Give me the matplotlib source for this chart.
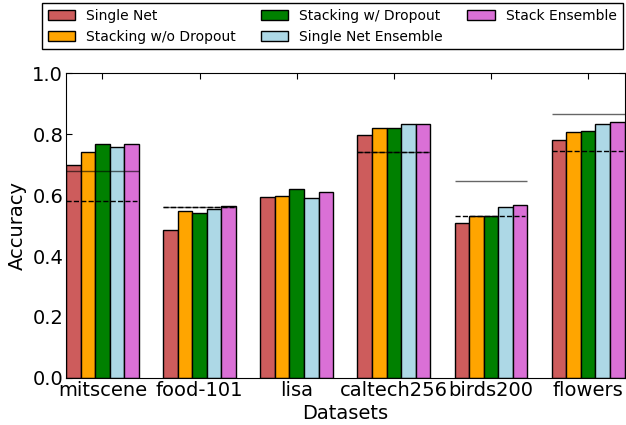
import numpy as np
from matplotlib import pyplot as plt

datasets = ['mitscene', 'food-101', 'lisa', 'caltech256', 'birds200', 'flowers']
methods = ['Single Net', 'Stacking w/o Dropout', 'Stacking w/ Dropout',
           'Single Net Ensemble', 'Stack Ensemble']
colors = ['indianred', 'orange', 'green', 'lightblue', 'orchid']

single_net = [0.700, 0.486, 0.592, 0.797, 0.509, 0.780]
stack_no_drop = [0.741, 0.547, 0.598, 0.819, 0.530, 0.805]
stack_drop = [0.766, 0.540, 0.620, 0.819, 0.530, 0.809]
single_ens = [0.758, 0.554, 0.589, 0.832, 0.562, 0.834]
stack_ens = [0.767, 0.565, 0.611, 0.832, 0.567, 0.839]
series = [single_net, stack_no_drop, stack_drop, single_ens, stack_ens]

# reference lines per dataset (None = not shown)
solid_ref = [0.679, 0.562, None, 0.740, 0.647, 0.864]
dashed_ref = [0.581, 0.562, None, 0.740, 0.530, 0.743]

plt.rcParams['xtick.direction'] = 'in'
plt.rcParams['ytick.direction'] = 'in'
plt.rcParams['xtick.top'] = True
plt.rcParams['ytick.right'] = True

fig = plt.figure(figsize=(6.26, 4.25), dpi=100)
ax = fig.add_axes([0.1054, 0.1106, 0.8930, 0.7176])

w = 0.15
x = np.arange(len(datasets))
for k, vals in enumerate(series):
    ax.bar(x + k * w, vals, w, align='edge', color=colors[k],
           edgecolor='black', linewidth=1, label=methods[k], zorder=2)

for i in range(len(datasets)):
    if solid_ref[i] is not None:
        ax.hlines(solid_ref[i], i, i + 0.75, colors='black', linewidth=1,
                  alpha=0.6, zorder=3)
    if dashed_ref[i] is not None:
        ax.hlines(dashed_ref[i], i, i + 0.73, colors='black', linewidth=1,
                  linestyles='--', zorder=3)

ax.set_xlim(0, 5.755)
ax.set_ylim(0, 1.0)
ax.set_yticks(np.arange(0, 1.01, 0.2))
ax.set_xticks(x + 0.375)
ax.set_xticklabels(datasets)
ax.tick_params(labelsize=14, length=4, pad=2)
ax.set_xlabel('Datasets', fontsize=14, labelpad=3)
ax.set_ylabel('Accuracy', fontsize=14)

fig.legend(loc='upper left', bbox_to_anchor=(42 / 626, 1 - 3 / 425), ncol=3,
           fontsize=10, fancybox=False, edgecolor='black', framealpha=1,
           borderpad=0.4, labelspacing=0.5, columnspacing=1.75,
           borderaxespad=0)

fig.savefig('out.png', dpi=100)
